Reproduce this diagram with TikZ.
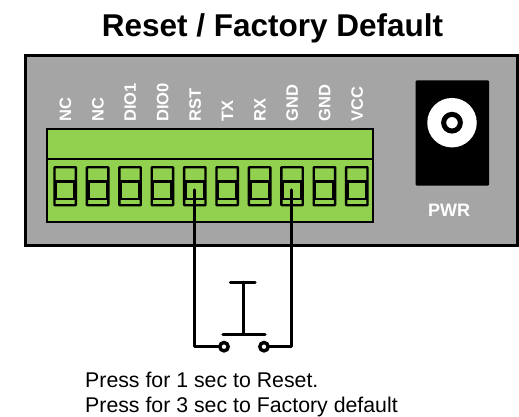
\documentclass[tikz,border=0pt]{standalone}
\usepackage{fontspec}
\setmainfont{Liberation Sans}
\definecolor{panel}{HTML}{A5A5A5}
\definecolor{grn}{HTML}{92D050}
\tikzset{
  x=1pt,y=-1pt,
  box/.style={draw=black,line width=3pt,anchor=north west,inner sep=0pt,outer sep=0pt},
  pin/.style={rotate=90,anchor=west,text=white,font=\bfseries\fontsize{16.5}{16.5}\selectfont,inner sep=0pt},
  wire/.style={draw=black,line width=3.2pt,line cap=round,line join=round},
  contact/.style={circle,draw=black,line width=3.4pt,fill=white,minimum size=8.4pt,inner sep=0pt,outer sep=0pt},
  notetext/.style={anchor=base west,inner sep=0pt,font=\fontsize{21.3}{25.5}\selectfont},
}
\begin{document}
\begin{tikzpicture}
\useasboundingbox (0,0) rectangle (519,417);
\node[anchor=base,inner sep=0pt,font=\bfseries\fontsize{31.5}{32}\selectfont] (title) at (272.5,36.7) {Reset / Factory Default};
% panel
\node[box,fill=panel,line width=3pt,minimum width=491.5pt,minimum height=190pt] (panel) at (25.5,55.5) {};
% terminal block
\node[box,fill=grn,line width=2pt,minimum width=326pt,minimum height=92pt] (block) at (47.3,129.5) {};
\draw[black,line width=2pt] (47.3,159) coordinate (divL) -- (373.3,159) coordinate (divR);
\foreach \i/\lab in {0/NC,1/NC,2/DIO1,3/DIO0,4/RST,5/TX,6/RX,7/GND,8/GND,9/VCC}{
  \pgfmathsetmacro{\px}{54.5+32.4*\i}
  \node[box,line width=2.4pt,rounded corners=0.6pt,minimum width=21.4pt,minimum height=38pt] (t\i) at (\px,167.2) {};
  \node[box,line width=2.5pt,minimum width=18.5pt,minimum height=17.7pt] (s\i) at (\px+1.5,181.3) {};
  \node[pin] (l\i) at (\px+11,121.7) {\lab};
}
% power jack
\node[box,draw=none,fill=black,rounded corners=1pt,minimum width=73.5pt,minimum height=105pt] (jack) at (415.7,80.5) {};
\node[circle,fill=white,minimum size=49.5pt,inner sep=0pt] (jw) at (452,122.7) {};
\node[circle,draw=black,line width=5pt,fill=white,minimum size=16.7pt,inner sep=0pt] (jh) at (452,122.7) {};
\node[anchor=base,inner sep=0pt,text=white,font=\bfseries\fontsize{18}{18}\selectfont] (pwr) at (449,216.7) {PWR};
% button
\coordinate (w1) at (194.3,190);
\coordinate (w2) at (291.8,190);
\node[contact] (c1) at (224,346.7) {};
\node[contact] (c2) at (264,346.7) {};
\draw[wire] (w1) -- (194.3,346.7) -- (c1.west);
\draw[wire] (w2) -- (291.8,346.7) -- (c2.east);
\coordinate (topL) at (230.5,282.3);
\coordinate (topR) at (255,282.3);
\coordinate (botL) at (223,334.3);
\coordinate (botR) at (265,334.3);
\draw[wire] (topL) -- (topR);
\draw[wire] (botL) -- (botR);
\draw[wire] (243.3,282.3) -- (243.3,334.3);
% note
\node[notetext] (note1) at (85,387) {Press for 1 sec to Reset.};
\node[notetext] (note2) at (85,412.5) {Press for 3 sec to Factory default};
\end{tikzpicture}
\end{document}
